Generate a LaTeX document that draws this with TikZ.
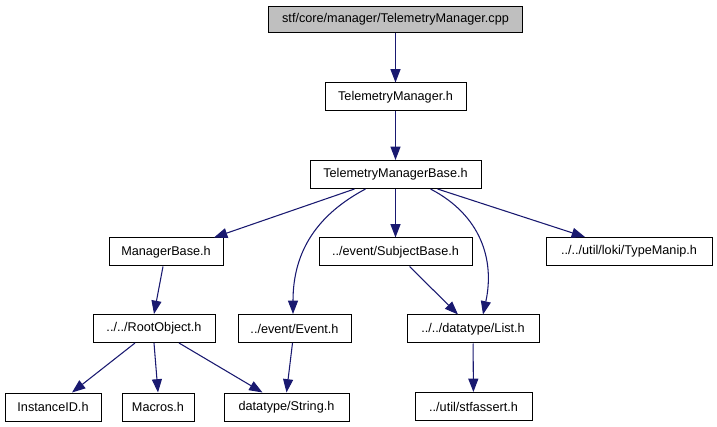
\documentclass[tikz,border=0pt]{standalone}
\usepackage{fontspec}
\setmainfont{Liberation Sans}
\usetikzlibrary{arrows.meta,calc}
\definecolor{edgeblue}{RGB}{25,25,112}
\definecolor{topgray}{RGB}{191,191,191}
\begin{document}
\begin{tikzpicture}[x=0.75pt,y=-0.75pt,
  box/.style={draw=black,line width=0.75pt,fill=white,inner sep=0pt,minimum height=21pt,font=\fontsize{9.5}{11}\selectfont},
  edge/.style={draw=edgeblue,line width=0.8pt,-{Triangle[length=10pt,width=7.5pt]}}]
\useasboundingbox (0,0) rectangle (717,427);
\node[box,fill=topgray,minimum width=191pt,minimum height=20pt] (top) at (395.5,19.5) {stf/core/manager/TelemetryManager.cpp};
\node[box,minimum width=105.75pt] (tmh) at (395.5,97) {TelemetryManager.h};
\node[box,minimum width=128.25pt] (tmb) at (395.5,174.5) {TelemetryManagerBase.h};
\node[box,minimum width=85.5pt] (mb) at (166,252) {ManagerBase.h};
\node[box,minimum width=114.75pt] (sb) at (395.5,252) {../event/SubjectBase.h};
\node[box,minimum width=124.5pt] (tm) at (629,251.5) {../../util/loki/TypeManip.h};
\node[box,minimum width=91.5pt] (ro) at (154,328.5) {../../RootObject.h};
\node[box,minimum width=84.75pt] (ev) at (294.5,328.5) {../event/Event.h};
\node[box,minimum width=99pt] (list) at (473,329) {../../datatype/List.h};
\node[box,minimum width=72pt] (ii) at (53,407) {InstanceID.h};
\node[box,minimum width=54pt] (mac) at (158,407) {Macros.h};
\node[box,minimum width=93.75pt] (str) at (286.5,407) {datatype/String.h};
\node[box,minimum width=87.75pt] (stf) at (473.5,406.5) {../util/stfassert.h};
\draw[edge] (top) -- (tmh);
\draw[edge] (tmh) -- (tmb);
\draw[edge] ($(tmb.south)+(-41,0)$) -- ($(mb.north)+(48,0)$);
\draw[edge] ($(tmb.south)+(-30,0)$) .. controls ($(tmb.south)+(-77,25)$) and ($(ev.north)+(-1.5,-64)$) .. ($(ev.north)+(-1.5,0)$);
\draw[edge] (tmb) -- (sb);
\draw[edge] ($(tmb.south)+(35,0)$) .. controls ($(tmb.south)+(85,26)$) and ($(list.north)+(22,-55)$) .. ($(list.north)+(10,0)$);
\draw[edge] ($(tmb.south)+(42,0)$) -- ($(tm.north)+(-44,0)$);
\draw[edge] ($(mb.south)+(-3,0)$) -- (ro.north);
\draw[edge] ($(sb.south)+(14,0)$) -- ($(list.north)+(-15,0)$);
\draw[edge] ($(ro.south)+(-19,0)$) -- ($(ii.north)+(19,0)$);
\draw[edge] (ro.south) -- (mac.north);
\draw[edge] ($(ro.south)+(25,0)$) -- ($(str.north)+(-24,0)$);
\draw[edge] ($(ev.south)+(-2,0)$) -- (str.north);
\draw[edge] (list) -- (stf);
\end{tikzpicture}
\end{document}
